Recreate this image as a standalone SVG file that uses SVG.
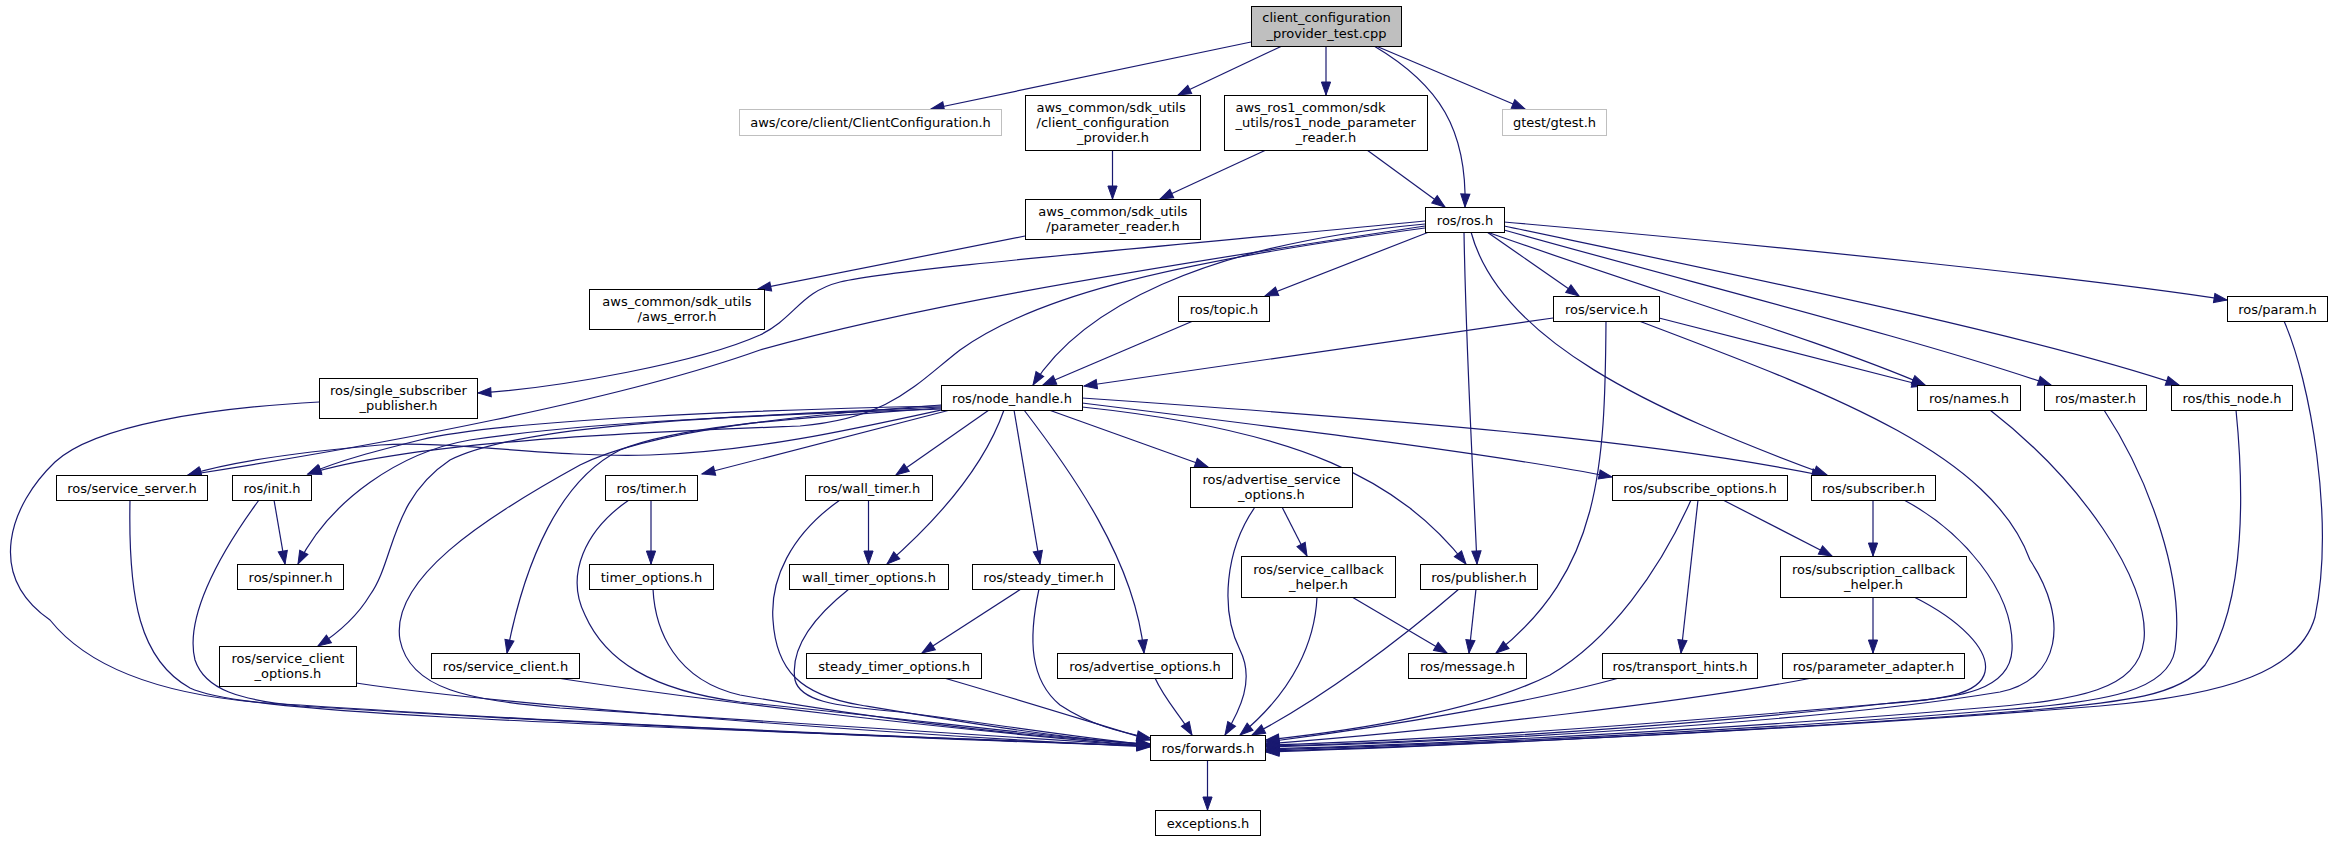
<svg xmlns="http://www.w3.org/2000/svg" width="2336" height="841" viewBox="0 0 2336 841">
<style>
.n rect{fill:#ffffff;stroke:#000000;stroke-width:1}
.n.root rect{fill:#bfbfbf}
.n.ext rect{stroke:#bfbfbf}
text{font-family:"DejaVu Sans","Liberation Sans",sans-serif;font-size:13px;fill:#000000;text-anchor:middle}
text.l{text-anchor:start}
#edges path{fill:none;stroke:#191970;stroke-width:1.2;marker-end:url(#a)}
</style>
<defs>
<marker id="a" markerWidth="14" markerHeight="10" refX="13" refY="5" orient="auto" markerUnits="userSpaceOnUse" overflow="visible">
<path d="M0,0.4 L13,5 L0,9.6 Z" fill="#191970" stroke="#191970" stroke-width="1"/>
</marker>
</defs>
<rect x="0" y="0" width="2336" height="841" fill="#ffffff"/>
<g id="edges">
<path d="M1251,42 L931,109"/>
<path d="M1282,46 L1178,95"/>
<path d="M1326,46 L1326,95"/>
<path d="M1374,46 C1440,85 1467,130 1465,207"/>
<path d="M1376,46 L1525,109"/>
<path d="M1112.5,150 L1112.5,199"/>
<path d="M1266,150 L1160,199"/>
<path d="M1367,150 L1445,207"/>
<path d="M1025,236 L758,289"/>
<path d="M1425,221 C1150,248 900,268 840,282 C800,292 795,318 760,335 C700,362 560,388 478,393"/>
<path d="M1425,226 C1100,275 900,310 760,350 C620,400 380,445 188,475"/>
<path d="M1425,228 C1150,265 1030,300 960,350 C915,385 890,418 800,426 C650,432 420,440 308,474"/>
<path d="M1425,224 C1200,245 1080,310 1033,385"/>
<path d="M1429,232 L1265,296"/>
<path d="M1487,232 L1579,296"/>
<path d="M1464,232 C1466,350 1472,450 1477,564"/>
<path d="M1471,232 C1500,340 1650,410 1827,475"/>
<path d="M1487,232 C1650,290 1820,340 1925,385"/>
<path d="M1504,230 C1700,285 1920,340 2051,385"/>
<path d="M1504,226 C1760,280 2030,335 2179,385"/>
<path d="M1504,222 C1800,248 2100,280 2227,300"/>
<path d="M1193,321 L1043,385"/>
<path d="M1553,318 L1084,386"/>
<path d="M1659,318 L1925,386"/>
<path d="M1606,321 C1605,470 1600,570 1496,653"/>
<path d="M1639,321 C1820,390 1990,450 2030,560 C2070,620 2060,680 2000,692 C1800,725 1450,742 1266,747"/>
<path d="M1990,410 C2080,480 2150,580 2144,640 C2138,690 2080,700 1980,708 C1750,728 1450,744 1266,749"/>
<path d="M2104,410 C2150,480 2185,580 2175,650 C2168,690 2110,702 2000,710 C1760,730 1450,745 1266,750"/>
<path d="M2236,410 C2243,480 2248,600 2205,665 C2180,695 2130,702 2020,711 C1770,731 1450,746 1266,751"/>
<path d="M2284,321 C2310,380 2335,520 2315,617 C2300,670 2230,695 2100,706 C1800,730 1450,746 1266,752"/>
<path d="M1904,500 C1960,530 2015,590 2012,650 C2010,690 1960,698 1900,702 C1700,725 1450,742 1266,746"/>
<path d="M1914,597 C1960,620 1990,650 1985,672 C1980,695 1940,700 1880,704 C1680,722 1450,740 1266,745"/>
<path d="M1812,678 C1700,700 1450,730 1266,744"/>
<path d="M1619,678 C1540,700 1400,725 1266,742"/>
<path d="M1691,500 C1660,570 1610,640 1550,675 C1480,710 1360,730 1266,740"/>
<path d="M319,402 C210,408 95,425 55,462 C10,505 -15,575 50,620 C90,670 170,700 300,705 C550,722 900,737 1150,746"/>
<path d="M130,500 C128,600 140,660 190,688 C240,712 500,722 1150,746"/>
<path d="M259,500 C215,560 185,620 195,660 C205,690 240,700 300,706 C600,725 950,740 1150,746"/>
<path d="M629,500 C585,530 565,575 585,615 C605,660 650,690 740,702 C900,718 1050,737 1150,745"/>
<path d="M653,589 C655,630 675,680 740,695 C850,715 1000,735 1150,744"/>
<path d="M356,683 C500,705 900,735 1150,747"/>
<path d="M557,678 C700,700 950,730 1150,746"/>
<path d="M941,405 C800,415 650,430 580,465 C480,520 390,580 400,640 C410,690 470,700 560,708 C800,725 1000,738 1150,746"/>
<path d="M941,408 C800,418 680,425 620,450 C560,480 525,560 507,653"/>
<path d="M941,407 C700,418 520,425 450,460 C390,500 395,560 370,595 C355,620 335,635 318,646"/>
<path d="M941,409 C800,414 600,420 470,440 C400,452 330,500 298,564"/>
<path d="M941,410 C850,430 750,452 650,455 C550,458 450,440 380,445 C300,452 230,462 188,475"/>
<path d="M941,406 C750,410 500,420 420,440 C380,450 340,460 308,474"/>
<path d="M950,410 L702,474"/>
<path d="M989,410 L896,475"/>
<path d="M1004,410 C990,450 960,500 887,564"/>
<path d="M1014,410 L1040,564"/>
<path d="M1024,410 C1070,470 1135,560 1144,653"/>
<path d="M1049,410 L1208,467"/>
<path d="M1082,407 C1300,430 1400,480 1466,564"/>
<path d="M1082,403 C1300,430 1500,455 1612,477"/>
<path d="M1082,398 C1400,420 1650,440 1825,476"/>
<path d="M1282,507 L1307,556"/>
<path d="M1255,507 C1225,550 1220,610 1240,650 C1255,680 1240,710 1225,735"/>
<path d="M1317,597 C1315,640 1295,690 1240,735"/>
<path d="M1352,597 L1447,653"/>
<path d="M1476,589 L1469,653"/>
<path d="M1459,589 C1400,640 1320,700 1252,735"/>
<path d="M1155,678 C1165,700 1180,715 1192,735"/>
<path d="M1021,589 L922,653"/>
<path d="M1039,589 C1028,640 1030,680 1060,705 C1090,725 1120,732 1150,738"/>
<path d="M944,678 C1020,700 1100,725 1150,740"/>
<path d="M868.5,500 L868.5,564"/>
<path d="M840,500 C790,535 770,580 773,620 C776,670 800,695 860,705 C950,720 1050,737 1150,745"/>
<path d="M849,589 C810,620 790,650 795,680 C800,700 830,706 900,712 C1000,725 1080,738 1150,745"/>
<path d="M651,500 L651,564"/>
<path d="M274,500 L285,564"/>
<path d="M1723,500 L1832,556"/>
<path d="M1698,500 L1681,653"/>
<path d="M1873,500 L1873,556"/>
<path d="M1873,597 L1873,653"/>
<path d="M1207.5,760 L1207.5,810"/>
</g>
<g id="node0" class="n root"><rect x="1251.5" y="6.5" width="150" height="40"/><text x="1326.5" y="22">client_configuration</text><text x="1326.5" y="38">_provider_test.cpp</text></g>
<g id="node1" class="n ext"><rect x="739.5" y="109.5" width="262" height="26"/><text x="870.5" y="127">aws/core/client/ClientConfiguration.h</text></g>
<g id="node2" class="n"><rect x="1025.5" y="95.5" width="175" height="55"/><text class="l" x="1036.5" y="112">aws_common/sdk_utils</text><text class="l" x="1036.5" y="127">/client_configuration</text><text x="1113" y="142">_provider.h</text></g>
<g id="node3" class="n"><rect x="1224.5" y="95.5" width="203" height="55"/><text class="l" x="1235.5" y="112">aws_ros1_common/sdk</text><text class="l" x="1235.5" y="127">_utils/ros1_node_parameter</text><text x="1326" y="142">_reader.h</text></g>
<g id="node4" class="n ext"><rect x="1502.5" y="109.5" width="104" height="26"/><text x="1554.5" y="127">gtest/gtest.h</text></g>
<g id="node5" class="n"><rect x="1025.5" y="199.5" width="175" height="40"/><text x="1113" y="216">aws_common/sdk_utils</text><text x="1113" y="231">/parameter_reader.h</text></g>
<g id="node6" class="n"><rect x="1425.5" y="207.5" width="79" height="25"/><text x="1465" y="224.5">ros/ros.h</text></g>
<g id="node7" class="n"><rect x="589.5" y="289.5" width="175" height="40"/><text x="677" y="306">aws_common/sdk_utils</text><text x="677" y="321">/aws_error.h</text></g>
<g id="node8" class="n"><rect x="1178.5" y="296.5" width="91" height="25"/><text x="1224" y="313.5">ros/topic.h</text></g>
<g id="node9" class="n"><rect x="1553.5" y="296.5" width="106" height="25"/><text x="1606.5" y="313.5">ros/service.h</text></g>
<g id="node10" class="n"><rect x="2227.5" y="296.5" width="100" height="25"/><text x="2277.5" y="313.5">ros/param.h</text></g>
<g id="node11" class="n"><rect x="319.5" y="378.5" width="158" height="40"/><text x="398.5" y="395">ros/single_subscriber</text><text x="398.5" y="410">_publisher.h</text></g>
<g id="node12" class="n"><rect x="941.5" y="385.5" width="141" height="25"/><text x="1012" y="402.5">ros/node_handle.h</text></g>
<g id="node13" class="n"><rect x="1917.5" y="385.5" width="103" height="25"/><text x="1969" y="402.5">ros/names.h</text></g>
<g id="node14" class="n"><rect x="2044.5" y="385.5" width="102" height="25"/><text x="2095.5" y="402.5">ros/master.h</text></g>
<g id="node15" class="n"><rect x="2171.5" y="385.5" width="121" height="25"/><text x="2232" y="402.5">ros/this_node.h</text></g>
<g id="node16" class="n"><rect x="56.5" y="475.5" width="151" height="25"/><text x="132" y="492.5">ros/service_server.h</text></g>
<g id="node17" class="n"><rect x="232.5" y="475.5" width="79" height="25"/><text x="272" y="492.5">ros/init.h</text></g>
<g id="node18" class="n"><rect x="605.5" y="475.5" width="92" height="25"/><text x="651.5" y="492.5">ros/timer.h</text></g>
<g id="node19" class="n"><rect x="805.5" y="475.5" width="127" height="25"/><text x="869" y="492.5">ros/wall_timer.h</text></g>
<g id="node20" class="n"><rect x="1190.5" y="467.5" width="162" height="40"/><text x="1271.5" y="484">ros/advertise_service</text><text x="1271.5" y="499">_options.h</text></g>
<g id="node21" class="n"><rect x="1612.5" y="475.5" width="175" height="25"/><text x="1700" y="492.5">ros/subscribe_options.h</text></g>
<g id="node22" class="n"><rect x="1811.5" y="475.5" width="124" height="25"/><text x="1873.5" y="492.5">ros/subscriber.h</text></g>
<g id="node23" class="n"><rect x="237.5" y="564.5" width="106" height="25"/><text x="290.5" y="581.5">ros/spinner.h</text></g>
<g id="node24" class="n"><rect x="589.5" y="564.5" width="124" height="25"/><text x="651.5" y="581.5">timer_options.h</text></g>
<g id="node25" class="n"><rect x="789.5" y="564.5" width="159" height="25"/><text x="869" y="581.5">wall_timer_options.h</text></g>
<g id="node26" class="n"><rect x="972.5" y="564.5" width="142" height="25"/><text x="1043.5" y="581.5">ros/steady_timer.h</text></g>
<g id="node27" class="n"><rect x="1241.5" y="556.5" width="154" height="41"/><text x="1318.5" y="573.5">ros/service_callback</text><text x="1318.5" y="588.5">_helper.h</text></g>
<g id="node28" class="n"><rect x="1420.5" y="564.5" width="117" height="25"/><text x="1479" y="581.5">ros/publisher.h</text></g>
<g id="node29" class="n"><rect x="1780.5" y="556.5" width="186" height="41"/><text x="1873.5" y="573.5">ros/subscription_callback</text><text x="1873.5" y="588.5">_helper.h</text></g>
<g id="node30" class="n"><rect x="219.5" y="646.5" width="137" height="40"/><text x="288" y="663">ros/service_client</text><text x="288" y="678">_options.h</text></g>
<g id="node31" class="n"><rect x="431.5" y="653.5" width="148" height="25"/><text x="505.5" y="670.5">ros/service_client.h</text></g>
<g id="node32" class="n"><rect x="806.5" y="653.5" width="175" height="25"/><text x="894" y="670.5">steady_timer_options.h</text></g>
<g id="node33" class="n"><rect x="1057.5" y="653.5" width="175" height="25"/><text x="1145" y="670.5">ros/advertise_options.h</text></g>
<g id="node34" class="n"><rect x="1408.5" y="653.5" width="118" height="25"/><text x="1467.5" y="670.5">ros/message.h</text></g>
<g id="node35" class="n"><rect x="1602.5" y="653.5" width="155" height="25"/><text x="1680" y="670.5">ros/transport_hints.h</text></g>
<g id="node36" class="n"><rect x="1782.5" y="653.5" width="182" height="25"/><text x="1873.5" y="670.5">ros/parameter_adapter.h</text></g>
<g id="node37" class="n"><rect x="1150.5" y="735.5" width="115" height="25"/><text x="1208" y="752.5">ros/forwards.h</text></g>
<g id="node38" class="n"><rect x="1155.5" y="810.5" width="105" height="25"/><text x="1208" y="827.5">exceptions.h</text></g>
</svg>
